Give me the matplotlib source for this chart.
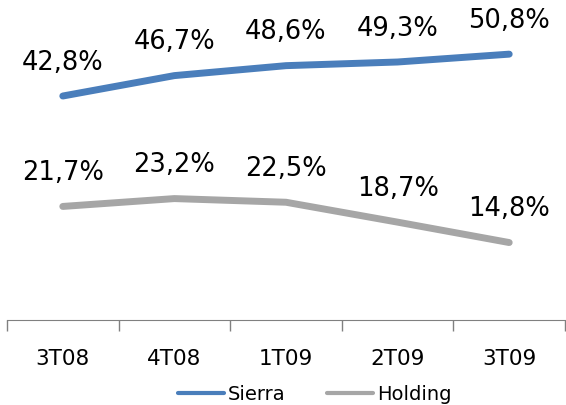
import matplotlib
matplotlib.use("Agg")
from matplotlib import pyplot as plt

quarters = ["3T08", "4T08", "1T09", "2T09", "3T09"]
sierra = [42.8, 46.7, 48.6, 49.3, 50.8]
holding = [21.7, 23.2, 22.5, 18.7, 14.8]

fig = plt.figure(figsize=(5.66, 4.05), dpi=100)
ax = fig.add_axes([7/566, 85/405, 558/566, 314/405])

x = range(len(quarters))
ax.plot(x, sierra, color='#4A7EBB', linewidth=5, solid_capstyle='round', label='Sierra')
ax.plot(x, holding, color='#A6A6A6', linewidth=5, solid_capstyle='round', label='Holding')

for series in (sierra, holding):
    for i, v in enumerate(series):
        ax.annotate(f"{v:.1f}%".replace('.', ','), (i, v), xytext=(0, 24),
                    textcoords='offset points', ha='center', va='center',
                    fontsize=18.5, color='black')

ax.set_xlim(-0.5, len(quarters) - 0.5)
ax.set_ylim(0, 60)
ax.set_xticks([i - 0.5 for i in range(len(quarters) + 1)])
ax.set_xticklabels([])
ax.set_xticks(list(x), minor=True)
ax.set_xticklabels(quarters, minor=True, fontsize=15.5)
ax.tick_params(axis='x', which='major', length=8, color='#808080', width=1)
ax.tick_params(axis='x', which='minor', length=0, pad=21)
ax.set_yticks([])
for side in ('left', 'right', 'top'):
    ax.spines[side].set_visible(False)
ax.spines['bottom'].set_color('#808080')

leg = fig.legend(loc='center', bbox_to_anchor=(0.556, 0.027), ncol=2, frameon=False,
                 fontsize=14, handlelength=2.4, handletextpad=0.2, columnspacing=2.1)
for line in leg.get_lines():
    line.set_linewidth(3)

plt.savefig('out.png', dpi=100)
